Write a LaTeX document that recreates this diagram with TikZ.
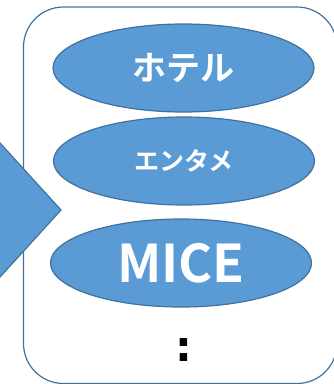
\documentclass[tikz,border=0pt]{standalone}
\usepackage{fontspec}
\setmainfont{Noto Sans CJK JP}[BoldFont={* Bold}]
\newfontfamily\dejavub{DejaVu Sans}[BoldFont={* Bold}]
\usetikzlibrary{shapes.geometric}
\definecolor{fillblue}{HTML}{5B9BD5}
\definecolor{edgeblue}{HTML}{41719C}
\begin{document}
\begin{tikzpicture}[x=1pt,y=-1pt,
  oval/.style={ellipse,draw=edgeblue,fill=fillblue,line width=1.2pt,minimum width=261pt,minimum height=88pt,inner sep=0pt,text=white,font=\bfseries}]
\useasboundingbox (0,0) rectangle (333,384);
\draw[edgeblue,line width=1.2pt,rounded corners=40pt] (23.5,7) rectangle (337,383.5);
\draw[edgeblue,fill=fillblue,line width=1.2pt] (-30,110) -- (0,143) -- (61,210) -- (0,277) -- (-30,310) -- cycle;
\node[oval] (hotel) at (183.5,68) {\fontsize{34}{34}\selectfont ホテル};
\node[oval] (ent) at (184,161) {\fontsize{25}{25}\selectfont エンタメ};
\node[oval] (mice) at (181,263) {\fontsize{52}{52}\selectfont MICE};
\node[anchor=base,inner sep=0pt,font=\dejavub\bfseries\fontsize{42}{42}\selectfont] (dots) at (183.5,361) {:};
\end{tikzpicture}
\end{document}
